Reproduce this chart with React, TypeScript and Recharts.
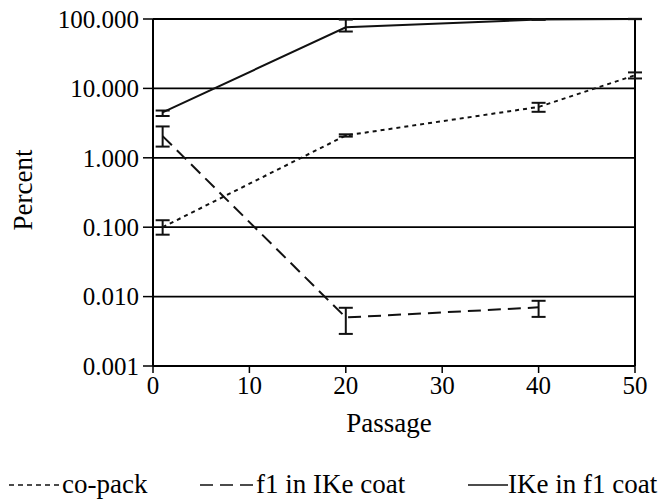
import React from 'react';
import { LineChart, Line, XAxis, YAxis, CartesianGrid, ErrorBar, ReferenceLine } from 'recharts';

const FONT = "'Liberation Serif', 'Times New Roman', Times, 'DejaVu Serif', serif";

const xTicks = [0, 10, 20, 30, 40, 50];
const yTicks = [0.001, 0.01, 0.1, 1, 10, 100];

const coPackX = [1, 20, 40, 50];
const coPackY = [0.1, 2.1, 5.4, 15.5];
const coPackErrLow = [0.022, 0.08, 0.8, 1.6];
const coPackErrHigh = [0.026, 0.08, 0.8, 1.5];

const f1X = [1, 20, 40];
const f1Y = [2.05, 0.005, 0.007];
const f1ErrLow = [0.6, 0.0021, 0.0019];
const f1ErrHigh = [0.78, 0.0019, 0.0017];

const ikeX = [1, 20, 40, 50];
const ikeY = [4.5, 76, 98, 100];
const ikeErrLow = [0.5, 10, 0.5, 0.5];
const ikeErrHigh = [0.3, 22, 0.5, 0.5];

const build = (xs: number[], ys: number[], lo: number[], hi: number[]) =>
  xs.map((x, i) => ({ x, y: ys[i], err: [lo[i], hi[i]] }));

const coPackData = build(coPackX, coPackY, coPackErrLow, coPackErrHigh);
const f1Data = build(f1X, f1Y, f1ErrLow, f1ErrHigh);
const ikeData = build(ikeX, ikeY, ikeErrLow, ikeErrHigh);

const tickStyle = { fill: '#000', fontSize: 25, style: { fontFamily: FONT } };
const txt = { fontFamily: FONT, fontSize: 27, fill: '#000' } as React.CSSProperties;

export default function App() {
  return (
    <div style={{ position: 'absolute', left: 0, top: 0, width: 665, height: 499, background: '#fff', fontFamily: FONT }}>
      <LineChart width={665} height={499} margin={{ top: 19, right: 30, bottom: 73, left: 0 }} style={{ fontFamily: FONT }}>
        <CartesianGrid vertical={false} stroke="#000" strokeWidth={1.8} />
        <XAxis
          type="number"
          dataKey="x"
          domain={[0, 50]}
          ticks={xTicks}
          allowDataOverflow
          height={60}
          tickSize={7}
          tickMargin={3}
          axisLine={{ stroke: '#000', strokeWidth: 2 }}
          tickLine={{ stroke: '#000', strokeWidth: 1.5 }}
          tick={tickStyle}
        />
        <YAxis
          type="number"
          scale="log"
          domain={[0.001, 100]}
          ticks={yTicks}
          allowDataOverflow
          width={153}
          tickSize={10}
          tickMargin={4}
          tickFormatter={(v: number) => v.toFixed(3)}
          axisLine={{ stroke: '#000', strokeWidth: 2 }}
          tickLine={{ stroke: '#000', strokeWidth: 1.5 }}
          tick={tickStyle}
        />
        <ReferenceLine x={50} stroke="#000" strokeWidth={2} />
        <Line
          data={coPackData}
          dataKey="y"
          type="linear"
          stroke="#111"
          strokeWidth={2}
          strokeDasharray="4 4"
          dot={false}
          isAnimationActive={false}
        >
          <ErrorBar dataKey="err" width={7} stroke="#111" strokeWidth={2} direction="y" />
        </Line>
        <Line
          data={f1Data}
          dataKey="y"
          type="linear"
          stroke="#111"
          strokeWidth={2}
          strokeDasharray="13 7"
          dot={false}
          isAnimationActive={false}
        >
          <ErrorBar dataKey="err" width={7} stroke="#111" strokeWidth={2} direction="y" />
        </Line>
        <Line
          data={ikeData}
          dataKey="y"
          type="linear"
          stroke="#111"
          strokeWidth={2}
          dot={false}
          isAnimationActive={false}
        >
          <ErrorBar dataKey="err" width={7} stroke="#111" strokeWidth={2} direction="y" />
        </Line>
      </LineChart>
      <svg
        width={665}
        height={499}
        style={{ position: 'absolute', left: 0, top: 0, pointerEvents: 'none' }}
      >
        <text x={32} y={190} transform="rotate(-90 32 190)" textAnchor="middle" style={txt}>
          Percent
        </text>
        <text x={389} y={432} textAnchor="middle" style={txt}>
          Passage
        </text>
        <line x1={9} y1={485} x2={61} y2={485} stroke="#111" strokeWidth={1.6} strokeDasharray="5 4" />
        <text x={62} y={493} style={txt}>co-pack</text>
        <line x1={200} y1={485} x2={254} y2={485} stroke="#111" strokeWidth={1.6} strokeDasharray="13 7" />
        <text x={256} y={493} style={txt}>f1 in IKe coat</text>
        <line x1={468} y1={485} x2={508} y2={485} stroke="#111" strokeWidth={1.6} />
        <text x={508} y={493} style={txt}>IKe in f1 coat</text>
      </svg>
    </div>
  );
}
